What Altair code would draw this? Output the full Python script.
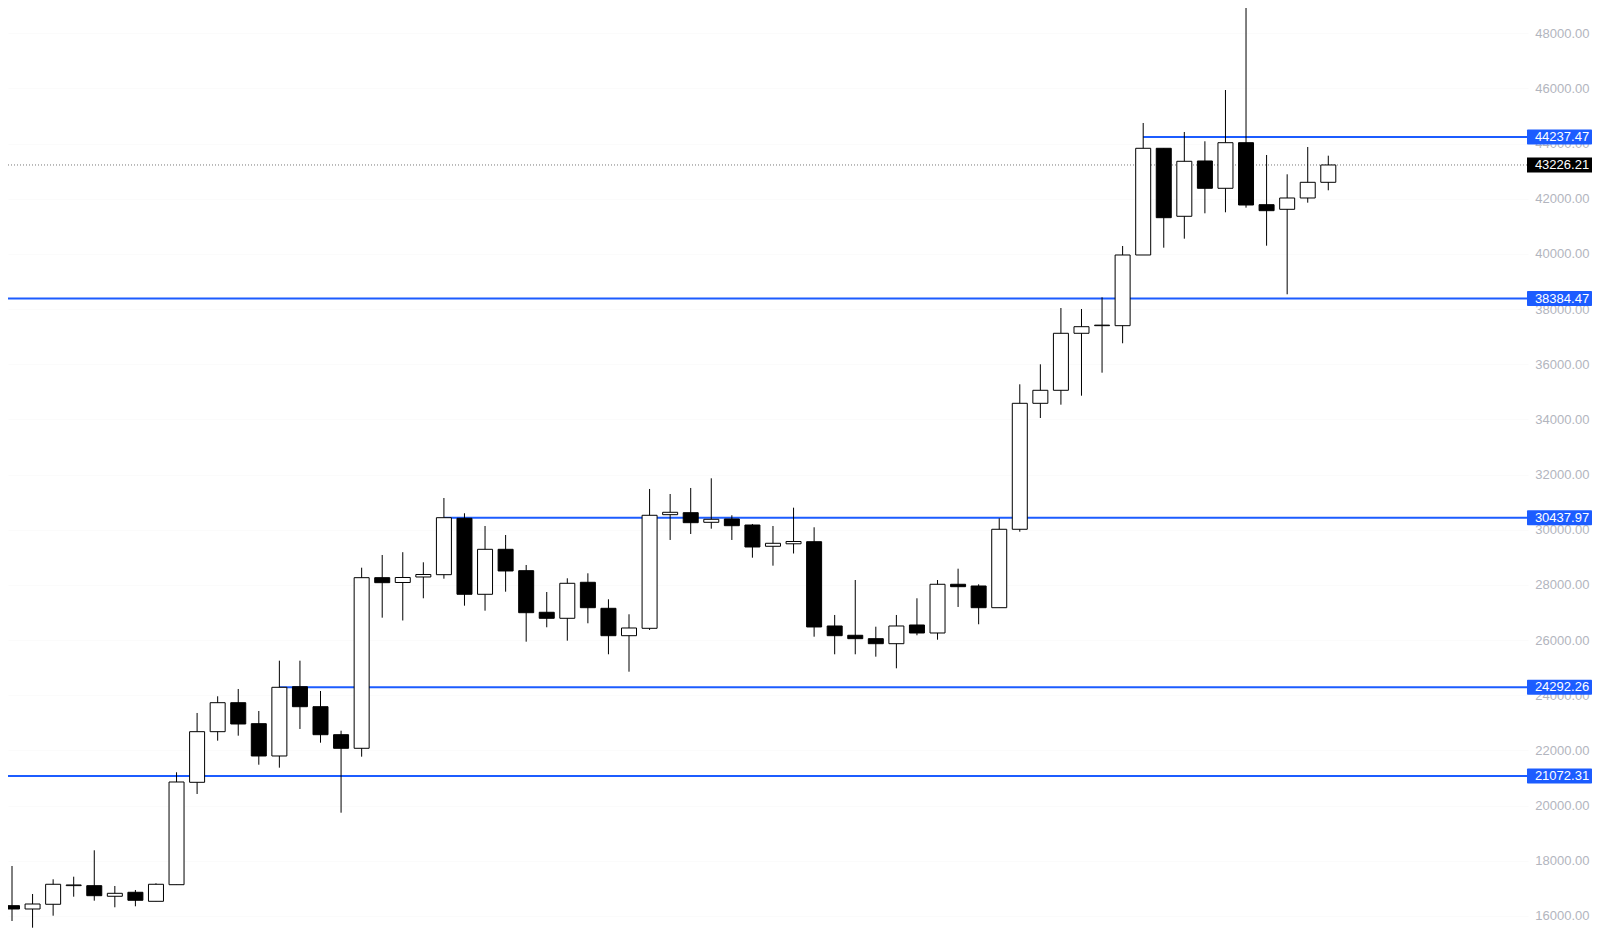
import altair as alt
import pandas as pd

# ---- weekly OHLC ----
opens = [16373, 16253, 16424, 17100, 17098, 16714, 16859, 16532, 17134, 20846,
         22681, 23732, 22971, 21800, 24312, 23587, 22572, 22079, 28264, 28090,
         28289, 28373, 30417, 27662, 29293, 28518, 27010, 26792, 28097, 27154,
         26161, 26429, 30548, 30620, 30272, 30392, 30174, 29402, 29493, 29569,
         26513, 26176, 26053, 25871, 26549, 26259, 28025, 27963, 27176, 30019,
         34586, 35058, 37124, 37400, 37400, 39963, 43831, 41366, 43371, 42381,
         44034, 41786, 41619, 42029, 42598]
highs = [17812, 16797, 17330, 17424, 18381, 17087, 16942, 17185, 21209, 23359,
         23964, 24229, 23431, 25255, 25255, 24156, 22717, 28626, 29087, 29188,
         28822, 31153, 30599, 30138, 29812, 28724, 27745, 28242, 28423, 27481,
         26937, 31480, 31298, 31516, 31867, 30526, 30211, 30138, 30802, 30091,
         26912, 28180, 26487, 26912, 27517, 28180, 28590, 28025, 30417, 35275,
         36000, 38041, 38005, 38429, 40289, 44748, 43831, 44422, 44085, 45944,
         48990, 43588, 42888, 43878, 43563]
lows = [15818, 15575, 16010, 16699, 16554, 16315, 16351, 16532, 17134, 20422,
        22355, 22536, 21484, 21376, 22779, 22282, 19744, 21775, 26814, 26712,
        27517, 28228, 27249, 27068, 27756, 25944, 26466, 25980, 26611, 25487,
        24856, 26368, 29631, 29848, 30040, 29631, 28989, 28699, 29141, 26125,
        25487, 25487, 25400, 24979, 26176, 26016, 27202, 26575, 27176, 29931,
        34053, 34536, 34862, 35696, 36762, 39963, 40227, 40554, 41474, 41511,
        41678, 40300, 38538, 41859, 42308]
closes = [16253, 16434, 17149, 17125, 16735, 16822, 16569, 17149, 20857, 22681,
          23732, 22960, 21800, 24290, 23587, 22572, 22079, 28264, 28083, 28271,
          28380, 30439, 27662, 29293, 28507, 26995, 26792, 28061, 27176, 26161,
          26440, 30526, 30635, 30258, 30381, 30149, 29377, 29511, 29576, 26477,
          26161, 26053, 25871, 26513, 26259, 28025, 27938, 27176, 30019, 34586,
          35058, 37124, 37363, 37420, 39963, 43831, 41315, 43360, 42381, 44034,
          41775, 41569, 42029, 42598, 43226.21]

# ---- horizontal levels ----
full_levels = [38384.47, 21072.31]
partial_levels = [44237.47, 30437.97, 24292.26]
partial_start = [55, 21, 13]          # candle index where the level begins
current_price = 43226.21
y_ticks = list(range(16000, 50000, 2000))

BLUE = "#1c5cff"
FONT = "Liberation Sans"
W, H = 1520, 912
X_DOMAIN = [-0.1945, 73.71]
Y_DOMAIN = [15854, 48917]

df = pd.DataFrame({"i": list(range(len(opens))), "open": opens, "high": highs,
                   "low": lows, "close": closes})
df["dir"] = ["up" if c >= o else "down" for o, c in zip(opens, closes)]

full_df = pd.DataFrame({"v": full_levels})
part_df = pd.DataFrame({"v": partial_levels, "start": partial_start})
tag_df = pd.DataFrame({"v": full_levels + partial_levels})
tag_df["label"] = [f"{v:.2f}" for v in tag_df["v"]]
cur_df = pd.DataFrame({"v": [current_price], "label": [f"{current_price:.2f}"]})

xs = alt.Scale(domain=X_DOMAIN, nice=False, zero=False, padding=0)
ys = alt.Scale(domain=Y_DOMAIN, nice=False, zero=False, padding=0)
yax = alt.Axis(orient="right", values=y_ticks, format=".2f", title=None,
               ticks=False, domain=False, grid=True, gridColor="#fbfbfb",
               gridWidth=1, labelColor="#b2b5be", labelFont=FONT,
               labelFontSize=13, labelAlign="right", labelPadding=61)

def X(field):
    return alt.X(field, type="quantitative", scale=xs, axis=None)

def Y(field):
    return alt.Y(field, type="quantitative", scale=ys, axis=yax)

base = alt.Chart(df)
wicks = base.mark_rule(color="black", strokeWidth=1).encode(
    x=X("i"), y=Y("low"), y2="high")
bodies = base.mark_bar(size=15, stroke="black", strokeWidth=1).encode(
    x=X("i"), y=Y("open"), y2="close",
    fill=alt.Fill("dir:N", scale=alt.Scale(domain=["up", "down"], range=["white", "black"]),
                  legend=None))

full_lines = alt.Chart(full_df).mark_rule(color=BLUE, strokeWidth=2).encode(
    x=alt.value(0), x2=alt.value(W), y=Y("v"))
part_lines = alt.Chart(part_df).mark_rule(color=BLUE, strokeWidth=2).encode(
    x=X("start"), x2=alt.value(W), y=Y("v"))
cur_line = alt.Chart(cur_df).mark_rule(color="#777777", strokeWidth=1, strokeDash=[1, 2]).encode(
    x=alt.value(0), x2=alt.value(W - 1), y=Y("v"))

tag_rects = alt.Chart(tag_df).mark_rect(color=BLUE, yOffset=-7.5, y2Offset=7.5, cornerRadius=1).encode(
    x=alt.value(W - 1), x2=alt.value(W + 64), y=Y("v"), y2="v")
tag_text = alt.Chart(tag_df).mark_text(color="white", font=FONT, fontSize=13,
                                       align="center", baseline="middle").encode(
    x=alt.value(W + 34), y=Y("v"), text="label:N")
cur_rect = alt.Chart(cur_df).mark_rect(color="black", yOffset=-7.5, y2Offset=7.5).encode(
    x=alt.value(W - 1), x2=alt.value(W + 64), y=Y("v"), y2="v")
cur_text = alt.Chart(cur_df).mark_text(color="white", font=FONT, fontSize=13,
                                       align="center", baseline="middle").encode(
    x=alt.value(W + 34), y=Y("v"), text="label:N")

chart = alt.layer(
    cur_line, full_lines, part_lines, wicks, bodies,
    tag_rects, tag_text, cur_rect, cur_text
).properties(
    width=W, height=H,
    autosize=alt.AutoSizeParams(type="none"),
    padding={"left": 0, "top": 0, "right": 64, "bottom": 8},
).configure_view(stroke=None)

chart.save("out.html", embed_options={"renderer": "svg", "actions": False})
